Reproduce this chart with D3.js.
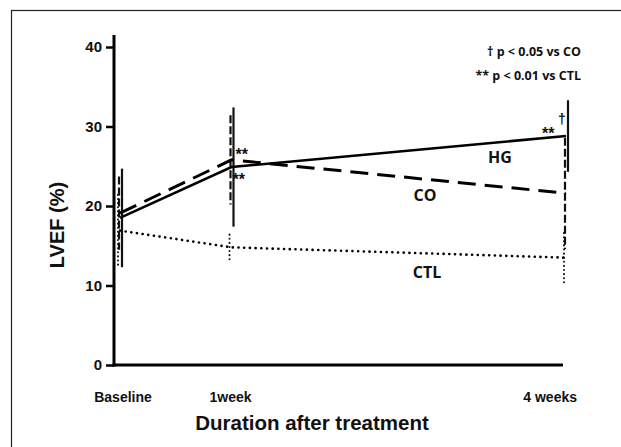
<!DOCTYPE html>
<html>
<head>
<meta charset="utf-8">
<script src="https://cdn.jsdelivr.net/npm/d3@7"></script>
<style>
  html, body { margin: 0; padding: 0; background: #fff; }
  svg { display: block; }
</style>
</head>
<body>
<svg id="chart" width="621" height="447"></svg>
<script>
// ---- data ----
const timepoints = [0, 1, 4];                 // weeks
const tickLabels = ["Baseline", "1week", "4 weeks"];
const yTicks = [0, 10, 20, 30, 40];
const seriesNames = ["HG", "CO", "CTL"];
const hgMean = [18.5, 24.9, 28.8];
const coMean = [19.1, 25.8, 21.6];
const ctlMean = [16.9, 14.8, 13.5];
const hgSD = [6.2, 7.5, 4.5];
const coSD = [4.6, 5.6, 7.0];
const ctlSD = [4.5, 1.6, 3.1];
const legendLines = ["\u2020 p < 0.05 vs CO", "** p < 0.01 vs CTL"];

const series = [
  { name: seriesNames[0], mean: hgMean, sd: hgSD, dash: null, width: 2.6, cap: "butt", off: 2 },
  { name: seriesNames[1], mean: coMean, sd: coSD, dash: "18,9", width: 3, cap: "butt", off: -1 },
  { name: seriesNames[2], mean: ctlMean, sd: ctlSD, dash: "0.1,5.6", width: 2.6, cap: "round", off: -2 }
];

const svg = d3.select("#chart");
const x = d3.scaleLinear().domain([0, 4]).range([120, 566]);
const y = d3.scaleLinear().domain([0, 40]).range([365, 47]);
const arial = "Liberation Sans, Arial, sans-serif";
const labelFont = "'Open Sans', 'Noto Sans', sans-serif";

// frame
svg.append("rect").attr("x", 11.5).attr("y", 10.5).attr("width", 640).attr("height", 460)
  .attr("fill", "none").attr("stroke", "#222").attr("stroke-width", 1.2);

// axes
const axisX0 = 114;
const yAxis = svg.append("g").attr("transform", `translate(${axisX0},0)`)
  .call(d3.axisLeft(y).tickValues(yTicks).tickSize(8).tickPadding(4).tickFormat(d3.format("d")));
yAxis.select(".domain").remove();
yAxis.append("line").attr("x1", 0).attr("x2", 0).attr("y1", y(0) + 1.5).attr("y2", 35)
  .attr("stroke", "#000").attr("stroke-width", 3);
yAxis.selectAll(".tick line").attr("stroke", "#000").attr("stroke-width", 2.5);
yAxis.selectAll(".tick text").attr("fill", "#111")
  .style("font-family", arial).style("font-weight", "bold").style("font-size", "15px");

svg.append("line").attr("x1", axisX0 - 1.5).attr("x2", 563).attr("y1", y(0)).attr("y2", y(0))
  .attr("stroke", "#000").attr("stroke-width", 3);

// x tick labels
const xLabelAnchor = ["middle", "middle", "end"];
const xLabelDx = [3, -1, 11];
svg.selectAll(".xlab").data(timepoints).enter().append("text")
  .attr("class", "xlab")
  .attr("x", (d, i) => x(d) + xLabelDx[i])
  .attr("y", 402)
  .attr("text-anchor", (d, i) => xLabelAnchor[i])
  .style("font-family", arial).style("font-weight", "bold").style("font-size", "14px")
  .attr("fill", "#111")
  .text((d, i) => tickLabels[i]);

// axis titles
svg.append("text").attr("x", 312).attr("y", 430).attr("text-anchor", "middle")
  .style("font-family", arial).style("font-weight", "bold").style("font-size", "20.5px")
  .attr("fill", "#111").text("Duration after treatment");
svg.append("text").attr("transform", "translate(64,225) rotate(-90)").attr("text-anchor", "middle")
  .style("font-family", arial).style("font-weight", "bold").style("font-size", "20px")
  .attr("fill", "#111").text("LVEF (%)");

// error bars
series.forEach(s => {
  svg.selectAll(null).data(timepoints).enter().append("line")
    .attr("x1", (d) => x(d) + s.off).attr("x2", (d) => x(d) + s.off)
    .attr("y1", (d, i) => y(s.mean[i] + s.sd[i]))
    .attr("y2", (d, i) => y(s.mean[i] - s.sd[i]))
    .attr("stroke", "#111").attr("stroke-width", s.name === "CTL" ? 2 : 2.2)
    .attr("stroke-dasharray", s.name === "CO" ? "8,3" : (s.name === "CTL" ? "0.1,4" : null))
    .attr("stroke-linecap", s.cap);
});

// lines
const line = d3.line().x(d => x(d[0])).y(d => y(d[1]));
series.slice().reverse().forEach(s => {
  svg.append("path")
    .datum(timepoints.map((t, i) => [t, s.mean[i]]))
    .attr("d", line)
    .attr("fill", "none").attr("stroke", "#000")
    .attr("stroke-width", s.width)
    .attr("stroke-dasharray", s.dash)
    .attr("stroke-linecap", s.cap);
});

// series labels
const seriesLabelPos = [[500, 163], [425, 201], [427, 278]];
seriesNames.forEach((n, i) => {
  svg.append("text").attr("x", seriesLabelPos[i][0]).attr("y", seriesLabelPos[i][1])
    .attr("text-anchor", "middle")
    .style("font-family", labelFont).style("font-weight", "bold").style("font-size", "16px")
    .attr("fill", "#111").text(n);
});

// significance marks
function mark(tx, ty, txt, size) {
  svg.append("text").attr("x", tx).attr("y", ty)
    .style("font-family", arial).style("font-weight", "bold").style("font-size", size + "px")
    .attr("fill", "#111").text(txt);
}
mark(x(1) + 4, y(coMean[1]) - 0, "**", 16);
mark(x(1) + 1, y(hgMean[1]) + 18, "**", 16);
mark(x(4) - 24, y(hgMean[2]) + 3, "**", 16);
mark(x(4) - 8, y(hgMean[2]) - 12, "\u2020", 14);

// legend text
legendLines.forEach((t, i) => {
  svg.append("text").attr("x", 581).attr("y", 56 + i * 24).attr("text-anchor", "end")
    .style("font-family", labelFont).style("font-weight", "bold").style("font-size", "12.5px")
    .attr("fill", "#111").text(t);
});
</script>
</body>
</html>
